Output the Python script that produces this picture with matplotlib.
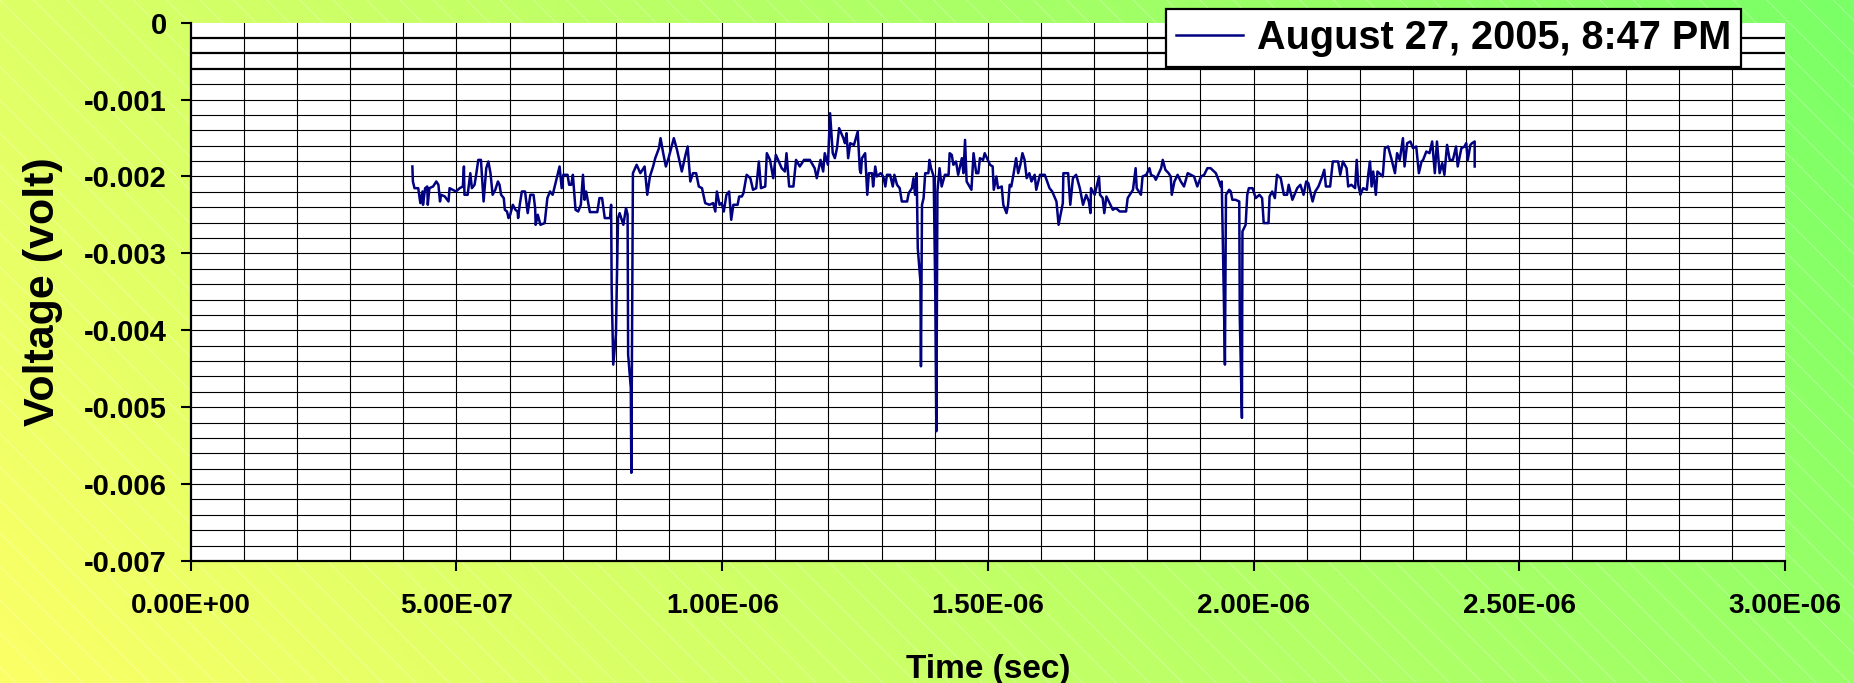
import numpy as np
import matplotlib
matplotlib.use("Agg")
import matplotlib.pyplot as plt
from matplotlib.ticker import MultipleLocator, FixedLocator, FuncFormatter
from matplotlib.patches import Rectangle

plt.rcParams["font.family"] = ["Liberation Sans", "DejaVu Sans"]
plt.rcParams["font.weight"] = "bold"
plt.rcParams["hatch.linewidth"] = 0.6

# --- data (time in microseconds, voltage in millivolts) ---
t_us = [
    0.417, 0.418, 0.421, 0.428, 0.432, 0.436, 0.437, 0.441, 0.445, 0.446,
    0.449, 0.456, 0.462, 0.466, 0.469, 0.471, 0.478, 0.485, 0.487, 0.493,
    0.499, 0.506, 0.512, 0.514, 0.515, 0.521, 0.526, 0.529, 0.534, 0.537,
    0.541, 0.546, 0.551, 0.556, 0.560, 0.564, 0.568, 0.573, 0.578, 0.581,
    0.584, 0.589, 0.591, 0.595, 0.598, 0.601, 0.606, 0.611, 0.615, 0.616,
    0.619, 0.623, 0.629, 0.634, 0.639, 0.645, 0.648, 0.649, 0.653, 0.658,
    0.666, 0.671, 0.676, 0.681, 0.684, 0.690, 0.694, 0.698, 0.701, 0.709,
    0.712, 0.716, 0.719, 0.724, 0.729, 0.734, 0.738, 0.741, 0.744, 0.751,
    0.765, 0.769, 0.774, 0.779, 0.789, 0.791, 0.792, 0.795, 0.800, 0.804,
    0.807, 0.814, 0.819, 0.822, 0.823, 0.828, 0.829, 0.832, 0.839, 0.846,
    0.854, 0.859, 0.864, 0.870, 0.874, 0.881, 0.884, 0.889, 0.894, 0.899,
    0.909, 0.915, 0.924, 0.931, 0.935, 0.940, 0.945, 0.951, 0.956, 0.962,
    0.968, 0.976, 0.983, 0.987, 0.990, 0.995, 0.999, 1.003, 1.008, 1.013,
    1.017, 1.021, 1.029, 1.032, 1.037, 1.040, 1.046, 1.053, 1.058, 1.064,
    1.069, 1.073, 1.081, 1.084, 1.090, 1.096, 1.101, 1.112, 1.118, 1.121,
    1.126, 1.134, 1.139, 1.146, 1.154, 1.165, 1.174, 1.178, 1.185, 1.190,
    1.193, 1.199, 1.203, 1.208, 1.212, 1.216, 1.220, 1.228, 1.231, 1.234,
    1.237, 1.241, 1.248, 1.255, 1.259, 1.261, 1.263, 1.269, 1.273, 1.276,
    1.282, 1.284, 1.288, 1.291, 1.298, 1.301, 1.304, 1.307, 1.310, 1.316,
    1.321, 1.324, 1.329, 1.334, 1.338, 1.348, 1.351, 1.357, 1.360, 1.363,
    1.366, 1.368, 1.373, 1.374, 1.376, 1.379, 1.382, 1.388, 1.390, 1.393,
    1.398, 1.401, 1.403, 1.405, 1.409, 1.413, 1.419, 1.426, 1.428, 1.432,
    1.435, 1.440, 1.444, 1.451, 1.454, 1.457, 1.460, 1.469, 1.473, 1.478,
    1.482, 1.485, 1.491, 1.494, 1.504, 1.509, 1.511, 1.516, 1.519, 1.526,
    1.529, 1.535, 1.538, 1.541, 1.544, 1.548, 1.553, 1.557, 1.561, 1.565,
    1.569, 1.573, 1.578, 1.582, 1.588, 1.591, 1.598, 1.607, 1.616, 1.621,
    1.629, 1.633, 1.641, 1.642, 1.651, 1.655, 1.660, 1.666, 1.673, 1.679,
    1.685, 1.690, 1.693, 1.694, 1.701, 1.709, 1.711, 1.716, 1.719, 1.723,
    1.729, 1.735, 1.741, 1.748, 1.760, 1.763, 1.773, 1.778, 1.780, 1.788,
    1.791, 1.798, 1.804, 1.807, 1.813, 1.816, 1.826, 1.829, 1.834, 1.840,
    1.844, 1.846, 1.851, 1.857, 1.863, 1.869, 1.876, 1.882, 1.888, 1.894,
    1.901, 1.907, 1.913, 1.919, 1.929, 1.935, 1.938, 1.940, 1.944, 1.946,
    1.948, 1.954, 1.957, 1.960, 1.966, 1.973, 1.974, 1.978, 1.979, 1.985,
    1.988, 1.991, 1.998, 2.004, 2.011, 2.016, 2.019, 2.028, 2.030, 2.035,
    2.040, 2.044, 2.051, 2.057, 2.063, 2.066, 2.073, 2.082, 2.088, 2.094,
    2.099, 2.103, 2.111, 2.116, 2.122, 2.128, 2.133, 2.136, 2.144, 2.149,
    2.159, 2.163, 2.168, 2.175, 2.178, 2.184, 2.191, 2.194, 2.197, 2.201,
    2.206, 2.213, 2.216, 2.219, 2.222, 2.225, 2.230, 2.233, 2.243, 2.247,
    2.253, 2.259, 2.266, 2.270, 2.275, 2.281, 2.284, 2.289, 2.295, 2.300,
    2.306, 2.311, 2.316, 2.319, 2.325, 2.331, 2.336, 2.341, 2.345, 2.350,
    2.355, 2.359, 2.364, 2.369, 2.375, 2.381, 2.384, 2.391, 2.397, 2.400,
    2.403, 2.408, 2.411, 2.416, 2.416,
]

v_mV = [
    -1.870, -2.065, -2.152, -2.152, -2.346, -2.195, -2.368, -2.152, -2.130, -2.368,
    -2.152, -2.130, -2.065, -2.108, -2.325, -2.238, -2.260, -2.325, -2.152, -2.173,
    -2.195, -2.152, -2.130, -1.870, -2.238, -2.238, -1.957, -2.152, -2.108, -1.978,
    -1.784, -1.784, -2.325, -1.892, -1.805, -1.957, -2.238, -2.173, -2.065, -2.108,
    -2.238, -2.281, -2.433, -2.455, -2.541, -2.498, -2.368, -2.433, -2.455, -2.541,
    -2.368, -2.195, -2.195, -2.476, -2.238, -2.238, -2.411, -2.628, -2.498, -2.628,
    -2.606, -2.281, -2.195, -2.238, -2.152, -1.978, -1.870, -2.152, -1.978, -1.978,
    -2.108, -2.108, -1.978, -2.433, -2.455, -2.368, -1.978, -2.303, -2.195, -2.463,
    -2.463, -2.281, -2.281, -2.541, -2.541, -2.368, -3.450, -4.446, -4.056, -2.541,
    -2.476, -2.628, -2.411, -2.498, -4.316, -4.749, -5.853, -1.957, -1.848, -1.957,
    -1.870, -2.238, -2.000, -1.870, -1.762, -1.632, -1.502, -1.697, -1.870, -1.762,
    -1.502, -1.654, -1.935, -1.719, -1.610, -2.065, -1.957, -1.957, -2.130, -2.152,
    -2.346, -2.368, -2.346, -2.455, -2.195, -2.368, -2.346, -2.455, -2.238, -2.195,
    -2.563, -2.368, -2.368, -2.260, -2.260, -2.216, -1.978, -2.022, -2.173, -2.152,
    -1.805, -2.152, -2.130, -1.697, -1.784, -2.022, -1.719, -1.892, -1.935, -1.697,
    -2.130, -2.130, -1.784, -1.870, -1.784, -1.784, -1.892, -2.022, -1.784, -1.935,
    -1.697, -1.848, -1.177, -1.697, -1.762, -1.632, -1.372, -1.502, -1.567, -1.437,
    -1.762, -1.567, -1.589, -1.416, -1.913, -1.957, -1.762, -1.697, -2.238, -1.957,
    -1.957, -2.130, -1.870, -2.000, -1.957, -1.978, -2.022, -2.130, -1.978, -1.978,
    -2.130, -1.978, -2.108, -2.152, -2.325, -2.325, -2.216, -2.152, -2.022, -2.238,
    -1.957, -2.931, -3.364, -4.468, -2.368, -2.281, -1.957, -1.957, -1.784, -1.892,
    -2.000, -3.537, -5.312, -2.195, -1.892, -2.130, -1.978, -1.978, -1.697, -1.719,
    -1.848, -1.805, -1.978, -1.762, -1.957, -1.524, -2.065, -2.173, -1.697, -1.957,
    -1.957, -1.762, -1.784, -1.697, -1.848, -1.870, -2.173, -2.000, -2.152, -2.130,
    -2.368, -2.476, -2.368, -2.108, -2.130, -1.978, -1.762, -1.957, -1.848, -1.697,
    -1.784, -2.022, -1.957, -2.065, -1.978, -2.173, -1.978, -1.978, -2.152, -2.195,
    -2.325, -2.628, -2.346, -1.957, -1.957, -2.368, -2.022, -1.978, -2.152, -2.368,
    -2.238, -2.325, -2.476, -2.152, -2.238, -2.000, -2.238, -2.281, -2.476, -2.260,
    -2.346, -2.433, -2.411, -2.455, -2.455, -2.281, -2.173, -1.892, -2.152, -2.238,
    -2.000, -1.978, -1.892, -1.978, -2.000, -2.043, -1.892, -1.784, -1.913, -1.957,
    -2.000, -2.238, -2.065, -1.978, -2.065, -2.130, -1.957, -1.978, -2.000, -2.130,
    -2.000, -1.978, -1.892, -1.892, -1.957, -2.065, -2.130, -2.065, -3.580, -4.446,
    -2.238, -2.173, -2.195, -2.303, -2.303, -2.325, -3.840, -5.139, -2.714, -2.628,
    -2.238, -2.152, -2.152, -2.281, -2.238, -2.281, -2.606, -2.606, -2.260, -2.195,
    -2.281, -1.978, -2.022, -2.238, -2.238, -2.108, -2.303, -2.152, -2.108, -2.238,
    -2.065, -2.087, -2.325, -2.195, -2.130, -2.022, -1.913, -2.130, -2.130, -1.805,
    -1.805, -1.978, -1.805, -1.892, -2.130, -2.108, -2.152, -1.784, -2.108, -2.238,
    -2.152, -2.173, -1.957, -1.805, -2.130, -1.935, -2.238, -1.935, -2.000, -1.632,
    -1.610, -1.762, -1.957, -1.697, -1.784, -1.502, -1.870, -1.567, -1.545, -1.632,
    -1.610, -1.957, -1.805, -1.784, -1.675, -1.697, -1.545, -1.957, -1.545, -1.957,
    -1.827, -1.978, -1.589, -1.784, -1.784, -1.610, -1.870, -1.632, -1.610, -1.567,
    -1.784, -1.589, -1.567, -1.545, -1.870,
]

series_label = "August 27, 2005, 8:47 PM"
x_label = "Time (sec)"
y_label = "Voltage (volt)"

t = np.array(t_us) * 1e-6
v = np.array(v_mV) * 1e-3

fig = plt.figure(figsize=(18.54, 6.83), dpi=100)

# background: yellow -> green diagonal gradient with faint stripes
bg = fig.add_axes([0, 0, 1, 1], zorder=-10)
u, w = np.meshgrid(np.linspace(0, 1, 400), np.linspace(0, 1, 150))
red = (252 - 100 * u - 30 * w) / 255.0
img = np.dstack([red, np.ones_like(red), np.full_like(red, 0.4)])
bg.imshow(img, origin="lower", extent=[0, 1, 0, 1], aspect="auto")
bg.add_patch(Rectangle((0, 0), 1, 1, transform=bg.transAxes, fill=False,
                       hatch="\\", edgecolor=(1, 1, 1, 0.35), lw=0))
bg.set_xlim(0, 1); bg.set_ylim(0, 1)
bg.axis("off")

ax = fig.add_axes([0.1029, 0.1786, 0.8599, 0.7882])
ax.set_facecolor("white")
ax.plot(t, v, color="#000080", lw=1.8, label=series_label, zorder=3)

ax.set_xlim(0, 3e-6)
ax.set_ylim(-0.007, 0)
ax.xaxis.set_major_locator(MultipleLocator(5e-7))
ax.yaxis.set_major_locator(MultipleLocator(0.001))
# grid lines every 1e-7 s and 0.0002 V (not on the outer edges)
ax.xaxis.remove_overlapping_locs = False
ax.yaxis.remove_overlapping_locs = False
ax.xaxis.set_minor_locator(FixedLocator(np.arange(1, 30) * 1e-7))
ax.yaxis.set_minor_locator(FixedLocator(-np.arange(1, 35) * 0.0002))
ax.grid(False, which="major")
ax.grid(True, which="minor", color="black", lw=0.8)
ax.tick_params(which="minor", length=0)
ax.tick_params(which="major", direction="out", length=7.2, width=1.5, color="black")
ax.tick_params(axis="x", labelsize=20, pad=16)
ax.tick_params(axis="y", labelsize=21, pad=10)

ax.xaxis.set_major_formatter(FuncFormatter(lambda x, p: f"{x:.2E}"))
ax.yaxis.set_major_formatter(FuncFormatter(lambda y, p: "0" if abs(y) < 1e-9 else f"{y:.3f}"))

for s in ["top", "right"]:
    ax.spines[s].set_visible(False)
for s in ["left", "bottom"]:
    ax.spines[s].set_linewidth(1.6)
    ax.spines[s].set_color("black")

ax.set_xlabel(x_label, fontsize=24, fontweight="bold", labelpad=25)
ax.set_ylabel(y_label, fontsize=31, fontweight="bold", labelpad=15)

# the three top grid lines look heavier in the original
fig.canvas.draw()
for tk in ax.yaxis.get_minor_ticks():
    if tk.get_loc() > -0.00065:
        tk.gridline.set_linewidth(1.6)

leg = ax.legend(loc="upper right", bbox_to_anchor=(1741 / 1854, 1 - 9 / 683),
                bbox_transform=fig.transFigure, borderaxespad=0,
                prop={"family": "Liberation Sans", "weight": "bold", "size": 28.5},
                handlelength=1.7, handletextpad=0.35, borderpad=0.25,
                fancybox=False, framealpha=1, edgecolor="black")
leg.get_frame().set_linewidth(1.6)
leg.set_zorder(5)

plt.savefig("out.png", dpi=100)
plt.close()
